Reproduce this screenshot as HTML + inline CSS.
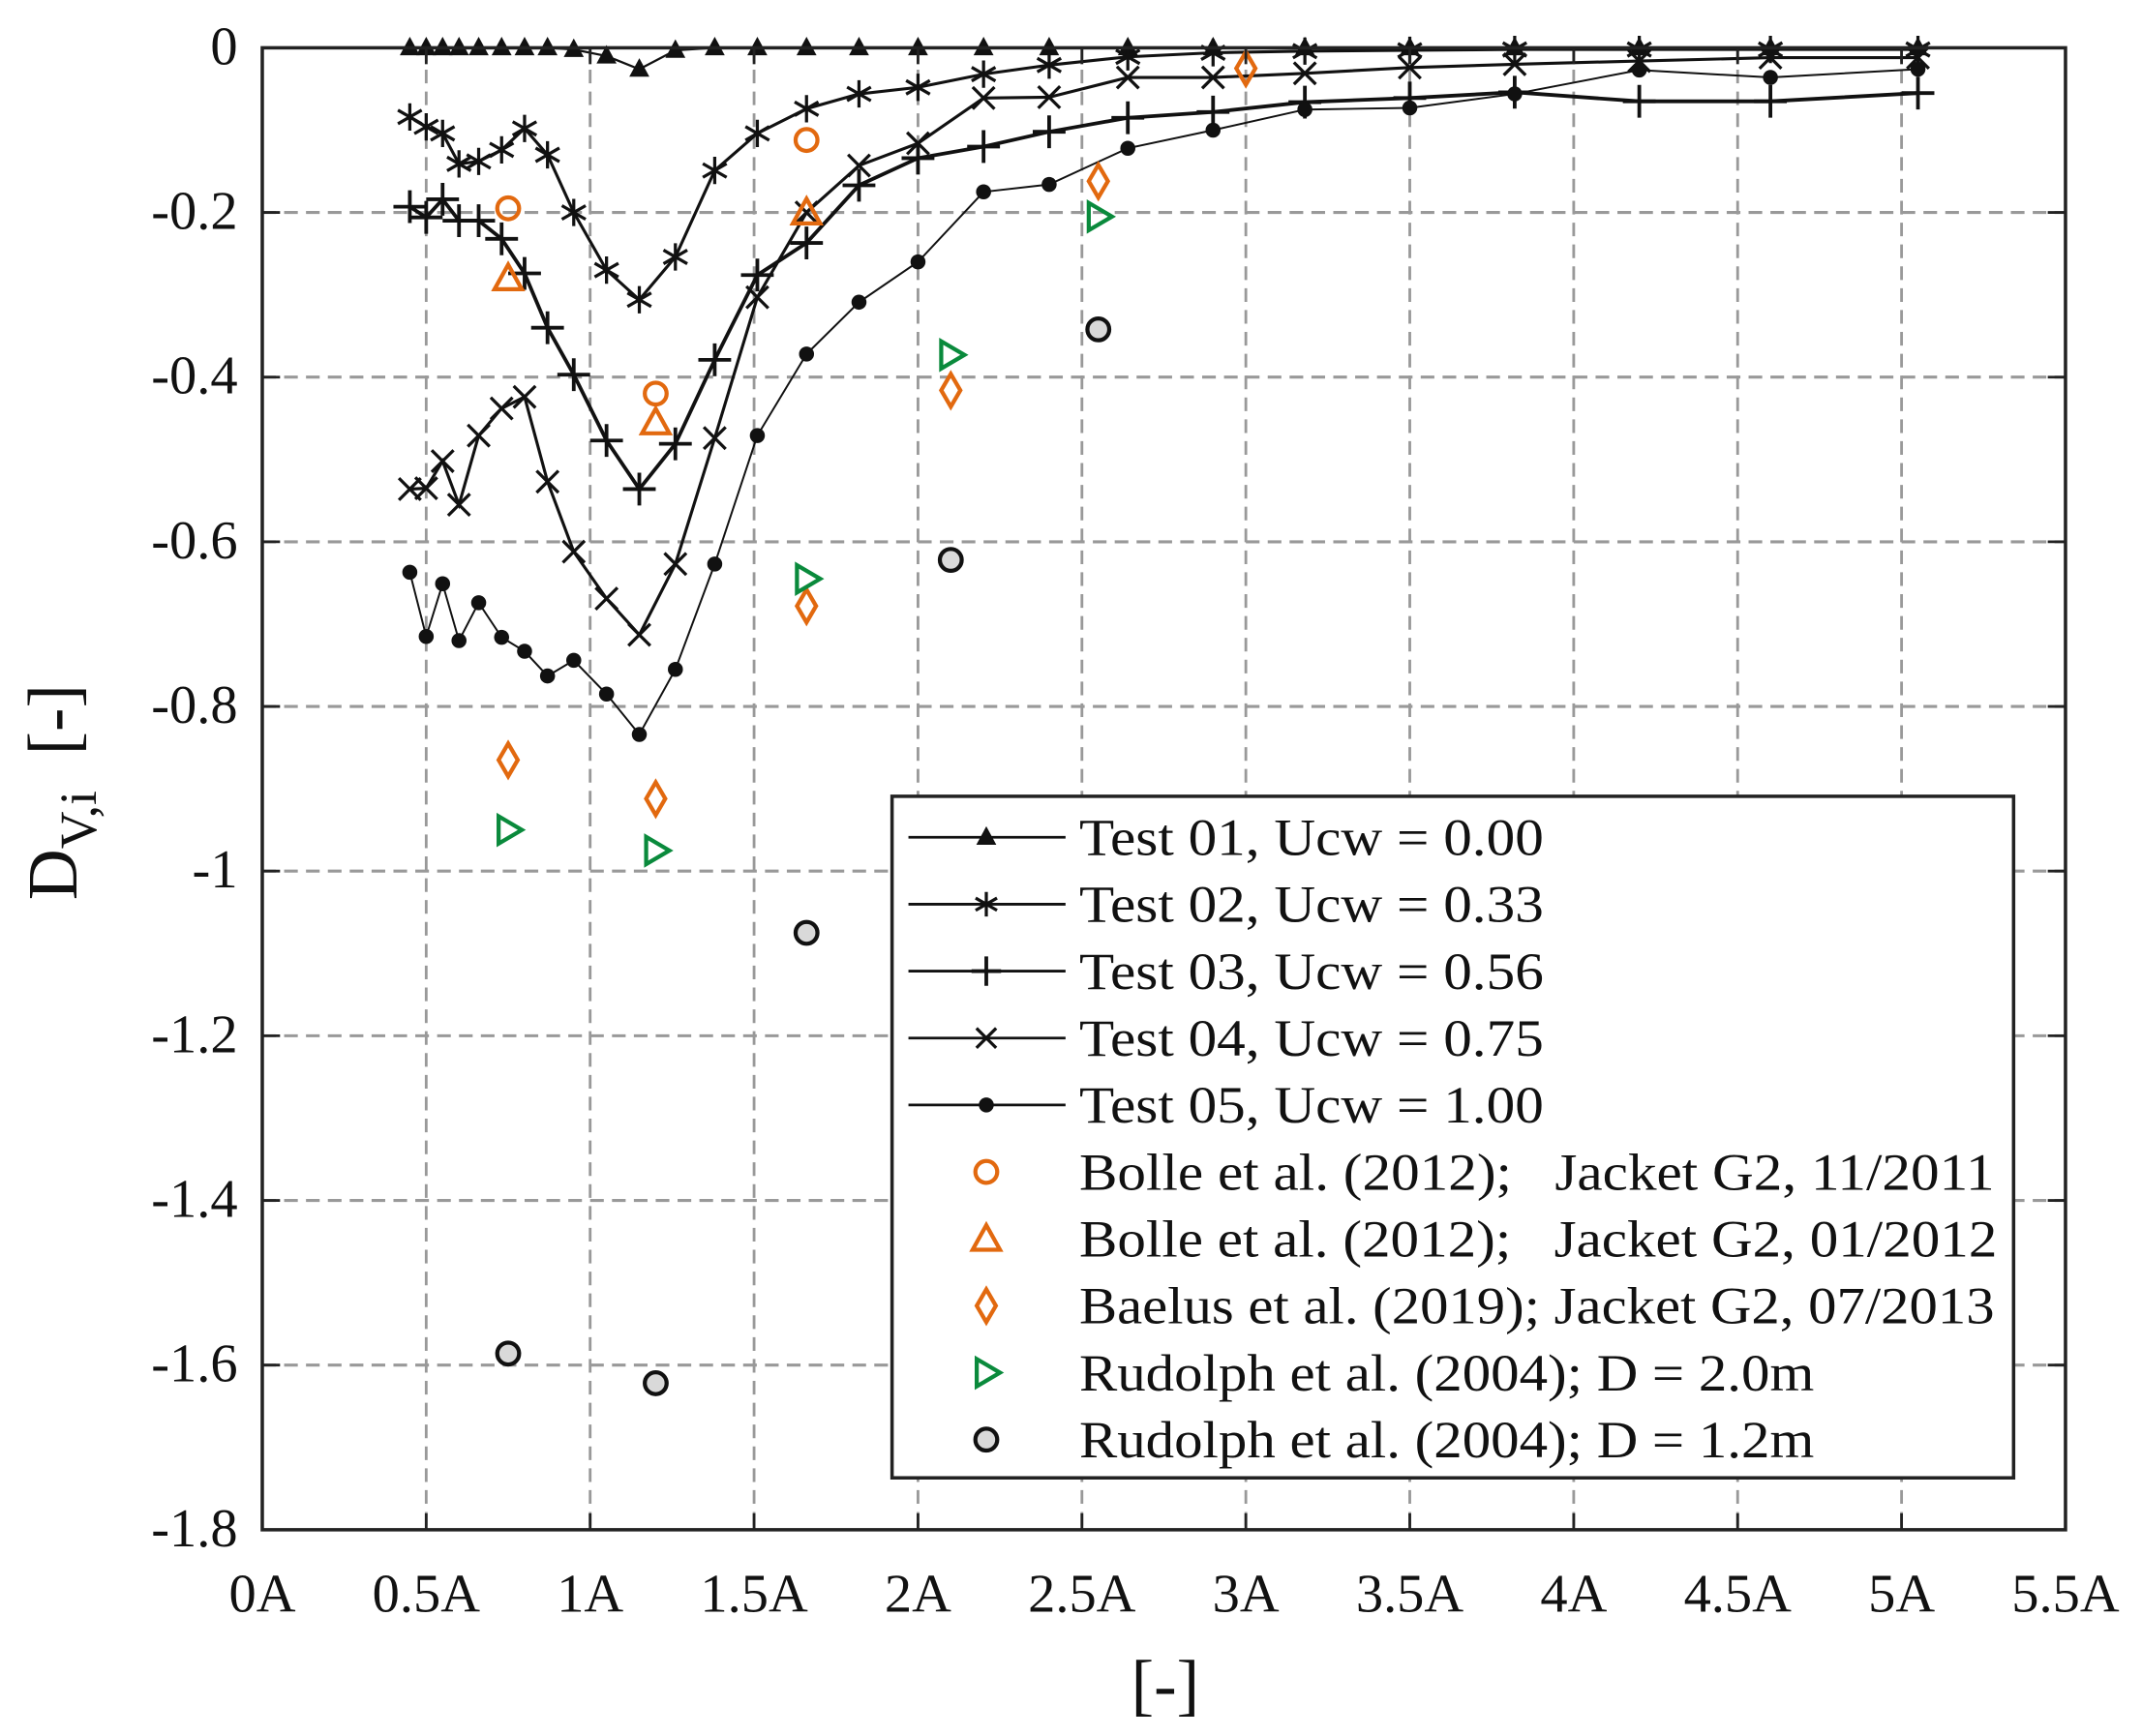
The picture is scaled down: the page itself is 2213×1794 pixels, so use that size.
<!DOCTYPE html>
<html><head><meta charset="utf-8"><style>
html,body{margin:0;padding:0;background:#fff}
svg{display:block}
text{font-family:"Liberation Serif",serif;fill:#111}
</style></head><body>
<svg id="chart" width="2213" height="1794" viewBox="0 0 1568 1271" preserveAspectRatio="none" xmlns="http://www.w3.org/2000/svg">
<g id="grid"></g>
<g id="series"></g>
<g id="axes"></g>
<g id="legend"></g>
</svg>
<script>
const xs=[0.45,0.5,0.55,0.6,0.66,0.73,0.80,0.87,0.95,1.05,1.15,1.26,1.38,1.51,1.66,1.82,2.0,2.2,2.4,2.64,2.9,3.18,3.5,3.82,4.2,4.6,5.05];
const t01=[0,0,0,0,0,0,0,0,-0.002,-0.01,-0.026,-0.003,0,0,0,0,0,0,0,0,0,0,0,0,0,0,0];
const t02=[-0.084,-0.096,-0.104,-0.141,-0.138,-0.124,-0.098,-0.13,-0.2,-0.27,-0.306,-0.254,-0.149,-0.104,-0.074,-0.056,-0.048,-0.032,-0.021,-0.011,-0.006,-0.004,-0.003,-0.002,-0.002,-0.002,-0.002];
const t03=[-0.193,-0.206,-0.184,-0.21,-0.21,-0.232,-0.274,-0.34,-0.397,-0.477,-0.536,-0.481,-0.379,-0.276,-0.237,-0.167,-0.134,-0.12,-0.102,-0.085,-0.078,-0.066,-0.061,-0.054,-0.065,-0.065,-0.055];
const t04=[-0.536,-0.535,-0.502,-0.555,-0.471,-0.438,-0.424,-0.527,-0.612,-0.669,-0.713,-0.627,-0.474,-0.303,-0.2,-0.143,-0.116,-0.061,-0.06,-0.036,-0.036,-0.031,-0.024,-0.02,-0.016,-0.012,-0.012];
const t05=[-0.637,-0.715,-0.651,-0.72,-0.674,-0.716,-0.733,-0.763,-0.744,-0.785,-0.834,-0.755,-0.627,-0.471,-0.372,-0.309,-0.26,-0.175,-0.166,-0.122,-0.1,-0.075,-0.073,-0.056,-0.027,-0.036,-0.026];
const bolleX=[0.75,1.2,1.66];
const bolle2011=[-0.195,-0.42,-0.112];
const bolle2012=[-0.28,-0.455,-0.2];
const refX=[0.75,1.2,1.66,2.1,2.55];
const baelusX=[0.75,1.2,1.66,2.1,2.55,3.0];
const baelus=[-0.865,-0.912,-0.678,-0.416,-0.162,-0.025];
const rud20=[-0.95,-0.975,-0.645,-0.373,-0.205];
const rud12=[-1.586,-1.622,-1.075,-0.622,-0.342];
const xTicks=[0,0.5,1,1.5,2,2.5,3,3.5,4,4.5,5,5.5];
const xTickLabels=["0A","0.5A","1A","1.5A","2A","2.5A","3A","3.5A","4A","4.5A","5A","5.5A"];
const yTicks=[0,-0.2,-0.4,-0.6,-0.8,-1,-1.2,-1.4,-1.6,-1.8];
const yTickLabels=["0","-0.2","-0.4","-0.6","-0.8","-1","-1.2","-1.4","-1.6","-1.8"];

const L=192,R=1512,T=35,B=1120;
const X=v=>L+(v-0)/5.5*(R-L);
const Y=v=>T+(0-v)/1.8*(B-T);
const NS="http://www.w3.org/2000/svg";
function mk(tag,attrs,parent){const e=document.createElementNS(NS,tag);for(const k in attrs)e.setAttribute(k,attrs[k]);parent.appendChild(e);return e;}
const grid=document.getElementById('grid'),ser=document.getElementById('series'),axes=document.getElementById('axes'),leg=document.getElementById('legend');

xTicks.forEach((t,i)=>{
  if(i>0&&i<xTicks.length-1){const g=mk('line',{x1:X(t),x2:X(t),y1:T,y2:B,stroke:'#999','stroke-width':2,'stroke-dasharray':'10,6'},grid);
  }
  const tk=mk('line',{x1:X(t),x2:X(t),y1:B,y2:B-12,stroke:'#222','stroke-width':2},axes);
  
  const tk2=mk('line',{x1:X(t),x2:X(t),y1:T,y2:T+12,stroke:'#222','stroke-width':2},axes);
  
  const tx=mk('text',{x:X(t),y:1180,'text-anchor':'middle','font-size':40},axes);tx.textContent=xTickLabels[i];
  
});
yTicks.forEach((t,i)=>{
  if(i>0&&i<yTicks.length-1){const g=mk('line',{x1:L,x2:R,y1:Y(t),y2:Y(t),stroke:'#999','stroke-width':2.2,'stroke-dasharray':'10,6'},grid);
  }
  const a=mk('line',{x1:L,x2:L+13,y1:Y(t),y2:Y(t),stroke:'#222','stroke-width':2},axes);
  
  const b=mk('line',{x1:R,x2:R-13,y1:Y(t),y2:Y(t),stroke:'#222','stroke-width':2},axes);
  
  const tx=mk('text',{x:174,y:Y(t)+12,'text-anchor':'end','font-size':40},axes);tx.textContent=yTickLabels[i];
  
});
const fr=mk('rect',{x:L,y:T,width:R-L,height:B-T,fill:'none',stroke:'#222','stroke-width':2.5},axes);

const xt=mk('text',{x:853,y:1250,'text-anchor':'middle','font-size':50},axes);xt.textContent='[-]';

const yt=mk('text',{transform:'translate(56,580) rotate(-90)','text-anchor':'middle','font-size':52},axes);

yt.innerHTML='D<tspan font-size="38" dy="14">V,i</tspan><tspan dy="-14">\u00a0\u00a0[-]</tspan>';

function marker(type,cx,cy,p,scale){
  const s=scale||1;let e;
  const blk={stroke:'#111','stroke-width':2.3,fill:'none'};
  if(type==='tri'){e=mk('path',{d:`M${cx},${cy-7*s}L${cx+6.5*s},${cy+5*s}L${cx-6.5*s},${cy+5*s}Z`,fill:'#111',stroke:'#111','stroke-width':1},p);}
  else if(type==='ast'){const r=10*s;e=mk('path',{d:`M${cx},${cy-r}V${cy+r}M${cx-r*0.87},${cy-r*0.5}L${cx+r*0.87},${cy+r*0.5}M${cx-r*0.87},${cy+r*0.5}L${cx+r*0.87},${cy-r*0.5}`,...blk},p);}
  else if(type==='plus'){const r=12*s;e=mk('path',{d:`M${cx},${cy-r}V${cy+r}M${cx-r},${cy}H${cx+r}`,...blk,'stroke-width':2.7},p);}
  else if(type==='x'){const r=8*s;e=mk('path',{d:`M${cx-r},${cy-r}L${cx+r},${cy+r}M${cx-r},${cy+r}L${cx+r},${cy-r}`,...blk},p);}
  else if(type==='dot'){e=mk('circle',{cx,cy,r:5.5*s,fill:'#111'},p);}
  else if(type==='ocirc'){e=mk('circle',{cx,cy,r:8,fill:'none',stroke:'#e2690f','stroke-width':3},p);}
  else if(type==='otri'){e=mk('path',{d:`M${cx},${cy-10}L${cx+10},${cy+8}L${cx-10},${cy+8}Z`,fill:'none',stroke:'#e2690f','stroke-width':3},p);}
  else if(type==='odia'){e=mk('path',{d:`M${cx},${cy-12}L${cx+7},${cy}L${cx},${cy+12}L${cx-7},${cy}Z`,fill:'none',stroke:'#e2690f','stroke-width':3},p);}
  else if(type==='gtri'){e=mk('path',{d:`M${cx-7},${cy-10}L${cx+10},${cy}L${cx-7},${cy+10}Z`,fill:'none',stroke:'#0a8a3c','stroke-width':3},p);}
  else if(type==='gcirc'){e=mk('circle',{cx,cy,r:8,fill:'#d9d9d9',stroke:'#111','stroke-width':3},p);}
  return e;
}
const tests=[[t01,'tri','test-01',1.6],[t02,'ast','test-02',2.2],[t03,'plus','test-03',2.7],[t04,'x','test-04',2.2],[t05,'dot','test-05',1.4]];
tests.forEach(([arr,m,name,w])=>{
  const g=mk('g',{},ser);
  const pts=xs.map((x,i)=>X(x)+','+Y(arr[i])).join(' ');
  const pl=mk('polyline',{points:pts,fill:'none',stroke:'#111','stroke-width':w},g);
  
  xs.forEach((x,i)=>{const e=marker(m,X(x),Y(arr[i]),g);});
});
const scat=[[bolleX,bolle2011,'ocirc','bolle-2011'],[bolleX,bolle2012,'otri','bolle-2012'],[baelusX,baelus,'odia','baelus-2013'],[refX,rud20,'gtri','rudolph-2m'],[refX,rud12,'gcirc','rudolph-1-2m']];
scat.forEach(([xa,ya,m,name])=>{
  const g=mk('g',{},ser);
  xa.forEach((x,i)=>{const e=marker(m,X(x),Y(ya[i]),g);});
});
const lb=mk('rect',{x:653,y:583,width:821,height:499,fill:'#fff',stroke:'#222','stroke-width':2.5},leg);

const entries=[['tri','Test 01, Ucw = 0.00',1],['ast','Test 02, Ucw = 0.33',1],['plus','Test 03, Ucw = 0.56',1],['x','Test 04, Ucw = 0.75',1],['dot','Test 05, Ucw = 1.00',1],
['ocirc','Bolle et al. (2012);\u00a0\u00a0\u00a0Jacket G2, 11/2011',0],['otri','Bolle et al. (2012);\u00a0\u00a0\u00a0Jacket G2, 01/2012',0],['odia','Baelus et al. (2019); Jacket G2, 07/2013',0],['gtri','Rudolph et al. (2004); D = 2.0m',0],['gcirc','Rudolph et al. (2004); D = 1.2m',0]];
const widths=[340,340,340,340,340,670,672,670,538,538];
entries.forEach(([m,label,line],i)=>{
  const y=613+i*49;
  const g=mk('g',{},leg);
  if(line){mk('line',{x1:665,x2:780,y1:y,y2:y,stroke:'#111','stroke-width':2},g);}
  const s=(m==='ast'||m==='plus'||m==='x')?0.9:1;
  marker(m,722,y,g,s);
  const t=mk('text',{x:790,y:y+13,'font-size':38,textLength:widths[i],lengthAdjust:'spacingAndGlyphs'},g);
  t.textContent=label;
});
</script>
</body></html>
